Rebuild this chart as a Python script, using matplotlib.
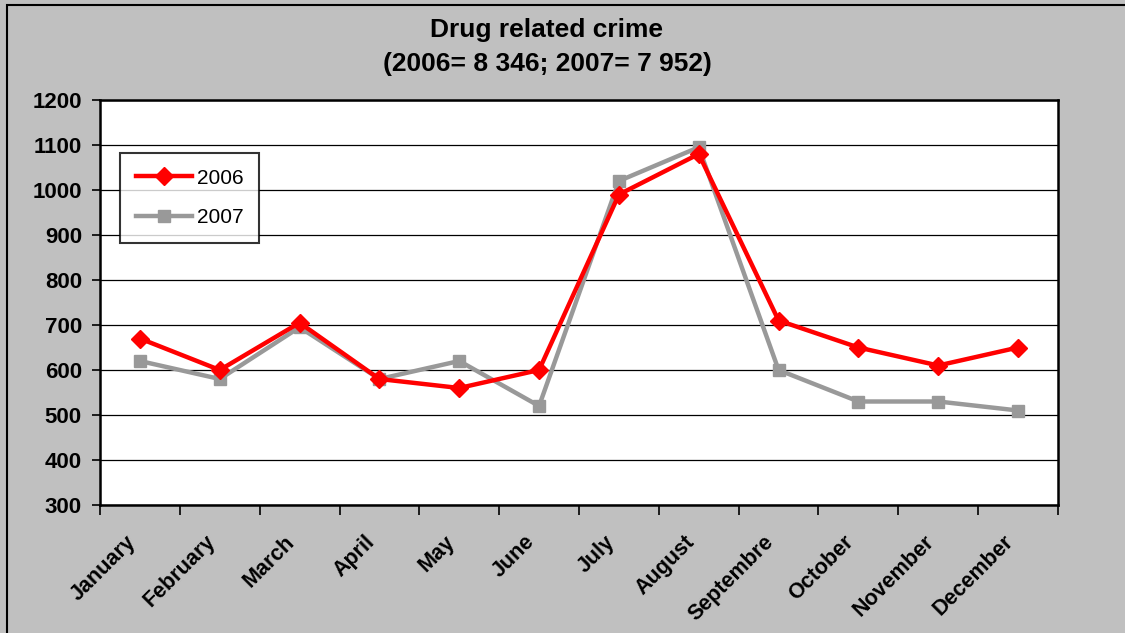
import matplotlib.pyplot as plt
import matplotlib.transforms as mtransforms
from matplotlib.patches import Rectangle

months = ['January', 'February', 'March', 'April', 'May', 'June', 'July',
          'August', 'Septembre', 'October', 'November', 'December']
crime_2006 = [670, 600, 705, 580, 560, 600, 990, 1080, 710, 650, 610, 650]
crime_2007 = [620, 580, 695, 580, 620, 520, 1020, 1095, 600, 530, 530, 510]
yticks = list(range(300, 1201, 100))

plt.rcParams['font.family'] = ['Liberation Sans', 'DejaVu Sans']

fig = plt.figure(figsize=(11.25, 6.33), dpi=100, facecolor='#c0c0c0')
W, H = 1125, 633
ax = fig.add_axes([100 / W, 1 - 505 / H, 958 / W, 405 / H])
ax.set_facecolor('white')

x = list(range(len(months)))
ax.plot(x, crime_2006, color='#ff0000', lw=3.2, marker='D', ms=9.5, label='2006', zorder=4)
ax.plot(x, crime_2007, color='#999999', lw=3.2, marker='s', ms=9, label='2007', zorder=3)

ax.set_xlim(-0.5, len(months) - 0.5)
ax.set_ylim(300, 1200)
ax.set_yticks(yticks)
ax.set_yticklabels([str(v) for v in yticks], fontsize=16, fontweight='bold')
ax.yaxis.grid(True, color='black', lw=0.9)
ax.set_axisbelow(True)

# ticks between categories, labels at category centers
ax.set_xticks([i - 0.5 for i in range(len(months) + 1)])
ax.set_xticklabels([])
ax.set_xticks(x, minor=True)
ax.set_xticklabels(months, minor=True, rotation=45, ha='right', va='top',
                   rotation_mode='anchor', fontsize=15.5, fontweight='bold')
ax.tick_params(axis='x', which='minor', length=0, pad=19)
ax.tick_params(axis='x', which='major', direction='out', length=7, width=1.2)
ax.tick_params(axis='y', direction='out', length=6, width=1.2, pad=7)
shift = mtransforms.ScaledTranslation(-15 / 100, 0, fig.dpi_scale_trans)
for lab in ax.get_xticklabels(minor=True):
    lab.set_transform(lab.get_transform() + shift)
for s in ax.spines.values():
    s.set_linewidth(1.8)
    s.set_color('black')

fig.text(547 / W, 1 - 30 / H, 'Drug related crime', ha='center', va='center',
         fontsize=19, fontweight='bold')
fig.text(547 / W, 1 - 64 / H, '(2006= 8 346; 2007= 7 952)', ha='center', va='center',
         fontsize=19, fontweight='bold')

leg = ax.legend(loc='upper left', bbox_to_anchor=(20 / 958, 1 - 53 / 405),
                borderaxespad=0, fontsize=15, frameon=True, fancybox=False,
                borderpad=0.75, labelspacing=1.0, handlelength=2.7, handletextpad=0.25)
leg.get_frame().set_edgecolor('black')
leg.get_frame().set_linewidth(1.5)

fig.patches.append(Rectangle((7 / W, -0.1), 1.2, 1.1 - 5 / H, transform=fig.transFigure,
                             fill=False, edgecolor='black', lw=1.5))

fig.savefig('out.png', dpi=100, facecolor=fig.get_facecolor())
